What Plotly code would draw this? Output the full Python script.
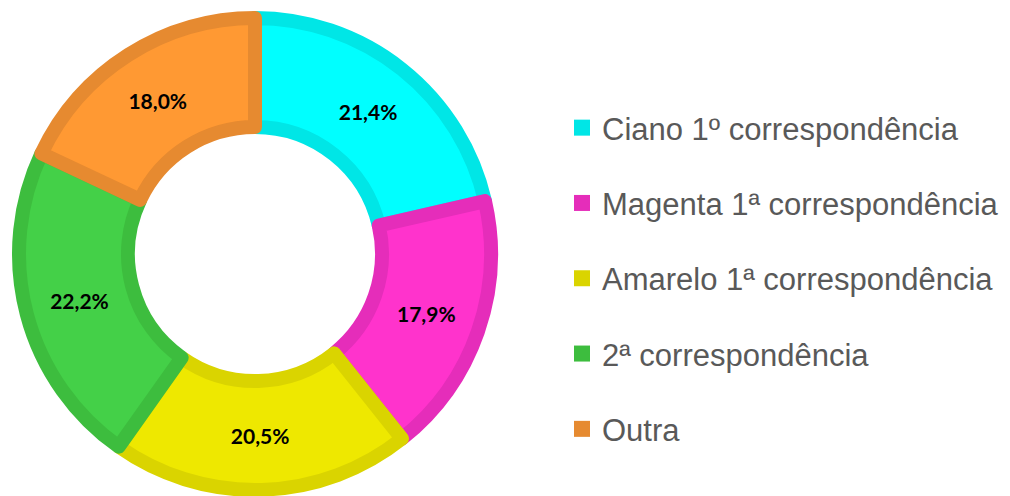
import plotly.graph_objects as go

labels = ["Ciano 1º correspondência", "Magenta 1ª correspondência",
          "Amarelo 1ª correspondência", "2ª correspondência", "Outra"]
values = [21.4, 17.9, 20.5, 22.2, 18.0]
fill_colors = ["#00FFFF", "#FF33CC", "#EEE800", "#44D048", "#FF9933"]
edge_colors = ["#00E6E6", "#E52DBA", "#DAD400", "#3DBD3E", "#E68A30"]

W, H = 1010, 496
# page body adds an 8px offset; compensate
cx, cy, r = 247, 246, 236
fig = go.Figure()
fig.add_trace(go.Pie(
    labels=labels, values=values, sort=False, direction="clockwise",
    hole=127 / 236,
    marker=dict(colors=fill_colors, line=dict(color=edge_colors, width=14)),
    texttemplate="%{percent:.1%}", textposition="inside",
    insidetextorientation="horizontal",
    textfont=dict(family="Lato", size=21, color="black", weight=700),
    showlegend=False,
    domain=dict(x=[(cx - r) / W, (cx + r) / W], y=[(H - cy - r) / H, (H - cy + r) / H]),
))
for lab, col in zip(labels, edge_colors):
    fig.add_trace(go.Scatter(
        x=[None], y=[None], mode="markers", name=lab, legendgroup=lab,
        marker=dict(symbol="square", size=17, color=col),
    ))

fig.update_layout(
    width=W, height=H, margin=dict(l=0, r=0, t=0, b=0),
    paper_bgcolor="white", plot_bgcolor="white",
    separators=",.",
    xaxis=dict(visible=False), yaxis=dict(visible=False),
    legend=dict(x=554 / W, y=(H - 270.5) / H, xanchor="left", yanchor="middle",
                font=dict(family="Liberation Sans, Arial", size=31, color="#595959"),
                tracegroupgap=32, bgcolor="rgba(0,0,0,0)"),
)
fig.write_html("out.html")
